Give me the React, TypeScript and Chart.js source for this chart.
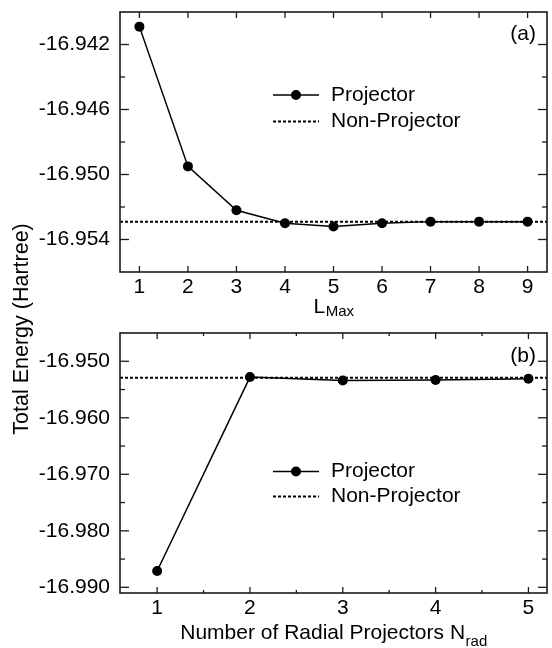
import React, { useEffect, useRef } from "react";
import { Chart, registerables } from "chart.js";

Chart.register(...registerables);

const FONT_FAMILY = '"Liberation Sans", Arial, Helvetica, sans-serif';
const INK = "#000000";
const FRAME = "#1a1a1a";

// ---- Panel (a): energy vs L_Max ----
const lmaxValues = [1, 2, 3, 4, 5, 6, 7, 8, 9];
const lmaxProjectorEnergy = [
  -16.9409, -16.9495, -16.9522, -16.953, -16.9532, -16.953, -16.9529, -16.9529, -16.9529,
];

// ---- Panel (b): energy vs number of radial projectors ----
const nradValues = [1, 2, 3, 4, 5];
const nradProjectorEnergy = [-16.9871, -16.9528, -16.9534, -16.9533, -16.9531];

// Non-projector reference energy (same in both panels)
const nonProjectorEnergy = -16.9529;

// ---- Axes / ticks ----
const aXRange = [0.6, 9.4];
const aYRange = [-16.956, -16.94];
const aXTicks = [1, 2, 3, 4, 5, 6, 7, 8, 9];
const aXMinorTicks: number[] = [];
const aYTicks = [-16.942, -16.946, -16.95, -16.954];
const aYMinorTicks = [-16.944, -16.948, -16.952];

const bXRange = [0.6, 5.2];
const bYRange = [-16.991, -16.945];
const bXTicks = [1, 2, 3, 4, 5];
const bXMinorTicks = [1.5, 2.5, 3.5, 4.5];
const bYTicks = [-16.95, -16.96, -16.97, -16.98, -16.99];
const bYMinorTicks = [-16.955, -16.965, -16.975, -16.985];

// ---- Text ----
const seriesLabels = ["Projector", "Non-Projector"];
const panelTags = ["(a)", "(b)"];
const yAxisTitle = "Total Energy (Hartree)";
const aXTitle = ["L", "Max"];
const bXTitle = ["Number of Radial Projectors N", "rad"];

const W = 552;
const H = 648;

const decorPlugin = {
  id: "decor",
  afterDraw(chart: any, _args: any, o: any) {
    const { ctx, chartArea: ca, scales } = chart;
    const xs = scales.x;
    const ys = scales.y;
    ctx.save();
    const line = (x1: number, y1: number, x2: number, y2: number) => {
      ctx.beginPath();
      ctx.moveTo(x1, y1);
      ctx.lineTo(x2, y2);
      ctx.stroke();
    };
    // frame
    ctx.strokeStyle = FRAME;
    ctx.lineWidth = 1.6;
    ctx.setLineDash([]);
    ctx.strokeRect(ca.left, ca.top, ca.right - ca.left, ca.bottom - ca.top);
    // inward ticks on all four sides
    ctx.lineWidth = 1.3;
    const xt = (vals: number[], len: number) =>
      vals.forEach((v) => {
        const px = xs.getPixelForValue(v);
        line(px, ca.bottom, px, ca.bottom - len);
        line(px, ca.top, px, ca.top + len);
      });
    const yt = (vals: number[], len: number) =>
      vals.forEach((v) => {
        const py = ys.getPixelForValue(v);
        line(ca.left, py, ca.left + len, py);
        line(ca.right, py, ca.right - len, py);
      });
    xt(o.xMajor, 6);
    xt(o.xMinor, 3);
    yt(o.yMajor, 9);
    yt(o.yMinor, 5);

    // legend
    const ds = chart.data.datasets;
    const lx0 = 273;
    const lx1 = 319;
    const tx = 331;
    ds.forEach((d: any, i: number) => {
      const y = o.legendY[i];
      ctx.strokeStyle = d.borderColor;
      ctx.lineWidth = d.borderWidth;
      ctx.setLineDash(d.borderDash || []);
      line(lx0, y, lx1, y);
      ctx.setLineDash([]);
      if (d.pointRadius > 0) {
        ctx.fillStyle = d.pointBackgroundColor;
        ctx.beginPath();
        ctx.arc((lx0 + lx1) / 2, y, d.pointRadius, 0, Math.PI * 2);
        ctx.fill();
      }
      ctx.fillStyle = INK;
      ctx.font = `21px ${FONT_FAMILY}`;
      ctx.textAlign = "left";
      ctx.textBaseline = "middle";
      ctx.fillText(d.label, tx, y);
    });

    // panel tag
    ctx.fillStyle = INK;
    ctx.font = `21px ${FONT_FAMILY}`;
    ctx.textAlign = "right";
    ctx.textBaseline = "alphabetic";
    ctx.fillText(o.tag, 536, o.tagBaseline);

    // x title with subscript
    const mainFont = `21px ${FONT_FAMILY}`;
    const subFont = `15px ${FONT_FAMILY}`;
    ctx.font = mainFont;
    const wm = ctx.measureText(o.xTitle[0]).width;
    ctx.font = subFont;
    const wsub = ctx.measureText(o.xTitle[1]).width;
    const cx = (ca.left + ca.right) / 2;
    const x0 = cx - (wm + wsub) / 2;
    ctx.textAlign = "left";
    ctx.font = mainFont;
    ctx.fillText(o.xTitle[0], x0, o.xTitleBaseline);
    ctx.font = subFont;
    ctx.fillText(o.xTitle[1], x0 + wm + 0.5, o.xTitleBaseline + o.subDrop);

    // shared y title
    if (o.yTitle) {
      ctx.save();
      ctx.translate(28, 329);
      ctx.rotate(-Math.PI / 2);
      ctx.font = `21.5px ${FONT_FAMILY}`;
      ctx.textAlign = "center";
      ctx.textBaseline = "alphabetic";
      ctx.fillText(o.yTitle, 0, 0);
      ctx.restore();
    }
    ctx.restore();
  },
};

type PanelSpec = {
  xs: number[];
  ys: number[];
  xRange: number[];
  yRange: number[];
  xTicks: number[];
  xMinor: number[];
  yTicks: number[];
  yMinor: number[];
  padTop: number;
  padBottom: number;
  xAxisH: number;
  legendY: number[];
  tag: string;
  tagBaseline: number;
  xTitle: string[];
  xTitleBaseline: number;
  subDrop: number;
  yTitle?: string;
};

function buildConfig(p: PanelSpec): any {
  const tickFont = { family: FONT_FAMILY, size: 21 };
  const zeroPad = (s: any) => {
    s.paddingTop = 0;
    s.paddingBottom = 0;
    s.paddingLeft = 0;
    s.paddingRight = 0;
  };
  return {
    type: "line",
    data: {
      datasets: [
        {
          label: seriesLabels[0],
          data: p.xs.map((x, i) => ({ x, y: p.ys[i] })),
          borderColor: INK,
          backgroundColor: INK,
          borderWidth: 1.5,
          pointRadius: 5,
          pointBackgroundColor: INK,
          pointBorderColor: INK,
          pointBorderWidth: 0,
          tension: 0,
          fill: false,
        },
        {
          label: seriesLabels[1],
          data: [
            { x: p.xRange[0], y: nonProjectorEnergy },
            { x: p.xRange[1], y: nonProjectorEnergy },
          ],
          borderColor: INK,
          borderWidth: 2,
          borderDash: [3, 2],
          pointRadius: 0,
          tension: 0,
          fill: false,
        },
      ],
    },
    options: {
      responsive: false,
      animation: false,
      events: [],
      layout: { padding: { top: p.padTop, bottom: p.padBottom, left: 0, right: 1 } },
      plugins: {
        legend: { display: false },
        tooltip: { enabled: false },
        decor: {
          xMajor: p.xTicks,
          xMinor: p.xMinor,
          yMajor: p.yTicks,
          yMinor: p.yMinor,
          legendY: p.legendY,
          tag: p.tag,
          tagBaseline: p.tagBaseline,
          xTitle: p.xTitle,
          xTitleBaseline: p.xTitleBaseline,
          subDrop: p.subDrop,
          yTitle: p.yTitle,
        },
      },
      scales: {
        x: {
          type: "linear",
          min: p.xRange[0],
          max: p.xRange[1],
          afterBuildTicks: (s: any) => {
            s.ticks = p.xTicks.map((v) => ({ value: v }));
          },
          afterFit: (s: any) => {
            s.height = p.xAxisH;
            zeroPad(s);
          },
          grid: { display: false, drawTicks: false },
          border: { display: false },
          ticks: {
            font: tickFont,
            color: INK,
            padding: 3,
            maxRotation: 0,
            autoSkip: false,
            callback: (v: any) => String(v),
          },
        },
        y: {
          type: "linear",
          min: p.yRange[0],
          max: p.yRange[1],
          afterBuildTicks: (s: any) => {
            s.ticks = p.yTicks.map((v) => ({ value: v }));
          },
          afterFit: (s: any) => {
            s.width = 120;
            zeroPad(s);
          },
          grid: { display: false, drawTicks: false },
          border: { display: false },
          ticks: {
            font: tickFont,
            color: INK,
            padding: 10,
            autoSkip: false,
            callback: (v: any) => Number(v).toFixed(3),
          },
        },
      },
    },
    plugins: [decorPlugin],
  };
}

export default function App() {
  const topRef = useRef<HTMLCanvasElement | null>(null);
  const botRef = useRef<HTMLCanvasElement | null>(null);

  useEffect(() => {
    if (!topRef.current || !botRef.current) return;
    const top = new Chart(
      topRef.current,
      buildConfig({
        xs: lmaxValues,
        ys: lmaxProjectorEnergy,
        xRange: aXRange,
        yRange: aYRange,
        xTicks: aXTicks,
        xMinor: aXMinorTicks,
        yTicks: aYTicks,
        yMinor: aYMinorTicks,
        padTop: 12,
        padBottom: 328,
        xAxisH: 48,
        legendY: [95, 121.5],
        tag: panelTags[0],
        tagBaseline: 40,
        xTitle: aXTitle,
        xTitleBaseline: 313,
        subDrop: 3,
        yTitle: yAxisTitle,
      })
    );
    const bottom = new Chart(
      botRef.current,
      buildConfig({
        xs: nradValues,
        ys: nradProjectorEnergy,
        xRange: bXRange,
        yRange: bYRange,
        xTicks: bXTicks,
        xMinor: bXMinorTicks,
        yTicks: bYTicks,
        yMinor: bYMinorTicks,
        padTop: 333,
        padBottom: 0,
        xAxisH: 55,
        legendY: [471.5, 496.5],
        tag: panelTags[1],
        tagBaseline: 362,
        xTitle: bXTitle,
        xTitleBaseline: 639,
        subDrop: 7,
      })
    );
    return () => {
      top.destroy();
      bottom.destroy();
    };
  }, []);

  const canvasStyle: React.CSSProperties = {
    position: "absolute",
    left: 0,
    top: 0,
    width: W,
    height: H,
  };

  return (
    <div
      style={{
        position: "absolute",
        left: 0,
        top: 0,
        width: W,
        height: H,
        background: "#ffffff",
        overflow: "hidden",
      }}
    >
      <canvas ref={topRef} width={W} height={H} style={canvasStyle} />
      <canvas ref={botRef} width={W} height={H} style={canvasStyle} />
    </div>
  );
}
